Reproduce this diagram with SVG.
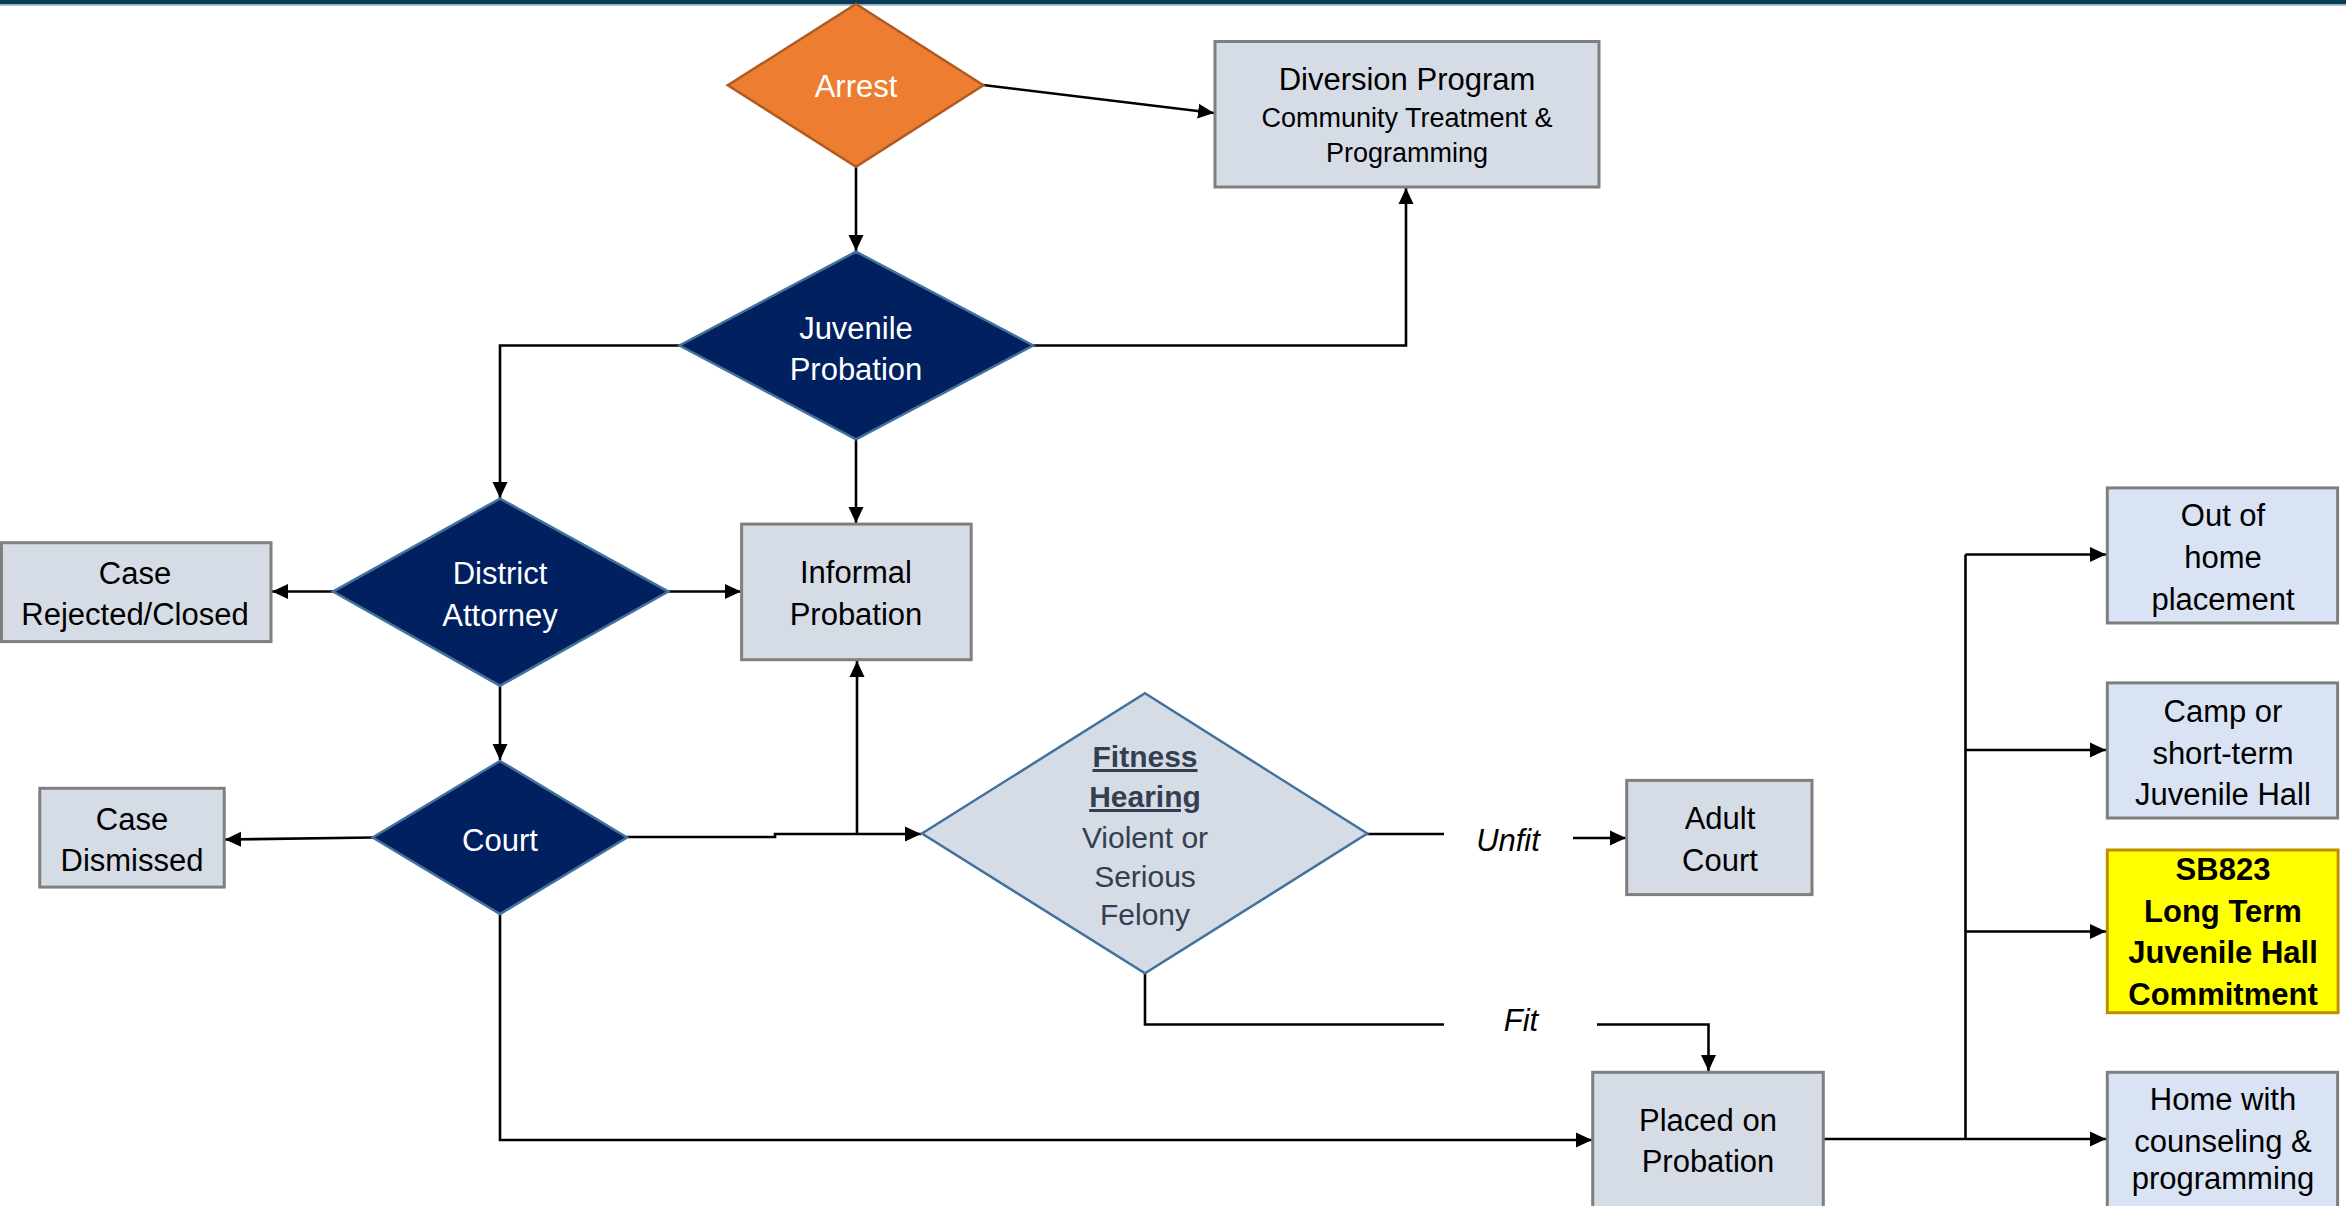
<svg xmlns="http://www.w3.org/2000/svg" width="2346" height="1206" viewBox="0 0 2346 1206">
<style>
.t{font-family:"Liberation Sans",Arial,sans-serif;font-size:31px;text-anchor:middle;fill:#000}
.w{fill:#fff}
.b{font-weight:bold}
.s{font-size:27px}
.f{font-size:30px;fill:#333F50}
.i{font-style:italic}
.box{fill:#D6DCE5;stroke:#7F7F7F;stroke-width:3}
.rbox{fill:#DAE3F3;stroke:#7F7F7F;stroke-width:3}
.navy{fill:#002060;stroke:#41719C;stroke-width:2.5}
.c{fill:none;stroke:#000;stroke-width:2.6}
.a{marker-end:url(#ah)}
</style>
<defs>
<marker id="ah" markerUnits="userSpaceOnUse" markerWidth="17" markerHeight="16" refX="16" refY="8" orient="auto">
<path d="M0,0.5 L16,8 L0,15.5 z" fill="#000"/>
</marker>
</defs>
<rect x="0" y="0" width="2346" height="1206" fill="#fff"/>
<rect x="0" y="0" width="2346" height="4.5" fill="#083C56"/>
<rect x="0" y="4.5" width="2346" height="1.5" fill="#A9C3D3"/>

<g id="connectors">
<path class="c a" d="M856,167 V251"/>
<path class="c a" d="M983,85 L1214,113"/>
<path class="c a" d="M1033,345.5 H1406 V188"/>
<path class="c a" d="M680,345.5 H500 V498"/>
<path class="c a" d="M856,439 V523"/>
<path class="c a" d="M333,591.5 H272"/>
<path class="c a" d="M668,591.5 H741"/>
<path class="c a" d="M500,686 V760"/>
<path class="c a" d="M373,837.5 L225,839.5"/>
<path class="c a" d="M627,837 H775 V834 H921"/>
<path class="c a" d="M857,835 V661"/>
<path class="c a" d="M500,914 V1140 H1592"/>
<path class="c" d="M1367,834 H1444"/>
<text class="t i" x="1508" y="851">Unfit</text>
<path class="c a" d="M1573,838 H1626"/>
<path class="c" d="M1145,973 V1024.5 H1444"/>
<text class="t i" x="1521" y="1031">Fit</text>
<path class="c a" d="M1597,1024.5 H1708.5 V1071"/>
<path class="c a" d="M1823,1139 H2106"/>
<path class="c" d="M1965.5,554.5 V1139"/>
<path class="c a" d="M1965.5,554.5 H2106"/>
<path class="c a" d="M1965.5,750 H2106"/>
<path class="c a" d="M1965.5,931.5 H2106"/>
</g>

<g id="arrest">
<polygon points="856,4 983.4,85.3 856,166.7 727.8,85.3" fill="#ED7D31" stroke="#AE5A21" stroke-width="2.5"/>
<text class="t w" x="856" y="97">Arrest</text>
</g>

<g id="diversion">
<rect class="box" x="1215" y="41.5" width="384" height="145.5"/>
<text class="t" x="1407" y="90">Diversion Program</text>
<text class="t s" x="1407" y="127">Community Treatment &amp;</text>
<text class="t s" x="1407" y="162">Programming</text>
</g>

<g id="juvenile-probation">
<polygon class="navy" points="856,251.7 1033.2,345.5 856,439.3 679.6,345.5"/>
<text class="t w" x="856" y="339">Juvenile</text>
<text class="t w" x="856" y="380">Probation</text>
</g>

<g id="district-attorney">
<polygon class="navy" points="500,498.6 668.3,591.6 500,685.7 333,591.6"/>
<text class="t w" x="500" y="584">District</text>
<text class="t w" x="500" y="626">Attorney</text>
</g>

<g id="case-rejected">
<rect class="box" x="1.5" y="542.7" width="269.5" height="98.9"/>
<text class="t" x="135" y="584">Case</text>
<text class="t" x="135" y="625">Rejected/Closed</text>
</g>

<g id="informal-probation">
<rect class="box" x="741.6" y="524.1" width="229.6" height="135.6"/>
<text class="t" x="856" y="583">Informal</text>
<text class="t" x="856" y="625">Probation</text>
</g>

<g id="court">
<polygon class="navy" points="500,761 627,837.5 500,914 372.7,837.5"/>
<text class="t w" x="500" y="851">Court</text>
</g>

<g id="case-dismissed">
<rect class="box" x="39.8" y="788.3" width="184.4" height="98.8"/>
<text class="t" x="132" y="830">Case</text>
<text class="t" x="132" y="871">Dismissed</text>
</g>

<g id="fitness-hearing">
<polygon points="1145,693.3 1367.3,833.5 1145,973.3 922,833.5" fill="#D6DCE5" stroke="#41719C" stroke-width="2.5"/>
<text class="t f b" x="1145" y="767" text-decoration="underline">Fitness</text>
<text class="t f b" x="1145" y="807" text-decoration="underline">Hearing</text>
<text class="t f" x="1145" y="848">Violent or</text>
<text class="t f" x="1145" y="887">Serious</text>
<text class="t f" x="1145" y="925">Felony</text>
</g>

<g id="adult-court">
<rect class="box" x="1626.7" y="780.4" width="185.3" height="114.2"/>
<text class="t" x="1720" y="829">Adult</text>
<text class="t" x="1720" y="871">Court</text>
</g>

<g id="placed-on-probation">
<rect class="box" x="1592.7" y="1072.3" width="230.6" height="145"/>
<text class="t" x="1708" y="1131">Placed on</text>
<text class="t" x="1708" y="1172">Probation</text>
</g>

<g id="out-of-home">
<rect class="rbox" x="2107.3" y="487.9" width="230.3" height="135.1"/>
<text class="t" x="2223" y="526">Out of</text>
<text class="t" x="2223" y="568">home</text>
<text class="t" x="2223" y="610">placement</text>
</g>

<g id="camp">
<rect class="rbox" x="2107.3" y="682.9" width="230.3" height="135.1"/>
<text class="t" x="2223" y="722">Camp or</text>
<text class="t" x="2223" y="764">short-term</text>
<text class="t" x="2223" y="805">Juvenile Hall</text>
</g>

<g id="sb823">
<rect x="2107.3" y="850" width="230.8" height="162.7" fill="#FFFF00" stroke="#BF9000" stroke-width="3"/>
<text class="t b" x="2223" y="880">SB823</text>
<text class="t b" x="2223" y="922">Long Term</text>
<text class="t b" x="2223" y="963">Juvenile Hall</text>
<text class="t b" x="2223" y="1005">Commitment</text>
</g>

<g id="home-with-counseling">
<rect class="rbox" x="2107.3" y="1072.3" width="230.3" height="145"/>
<text class="t" x="2223" y="1110">Home with</text>
<text class="t" x="2223" y="1152">counseling &amp;</text>
<text class="t" x="2223" y="1189">programming</text>
</g>
</svg>
